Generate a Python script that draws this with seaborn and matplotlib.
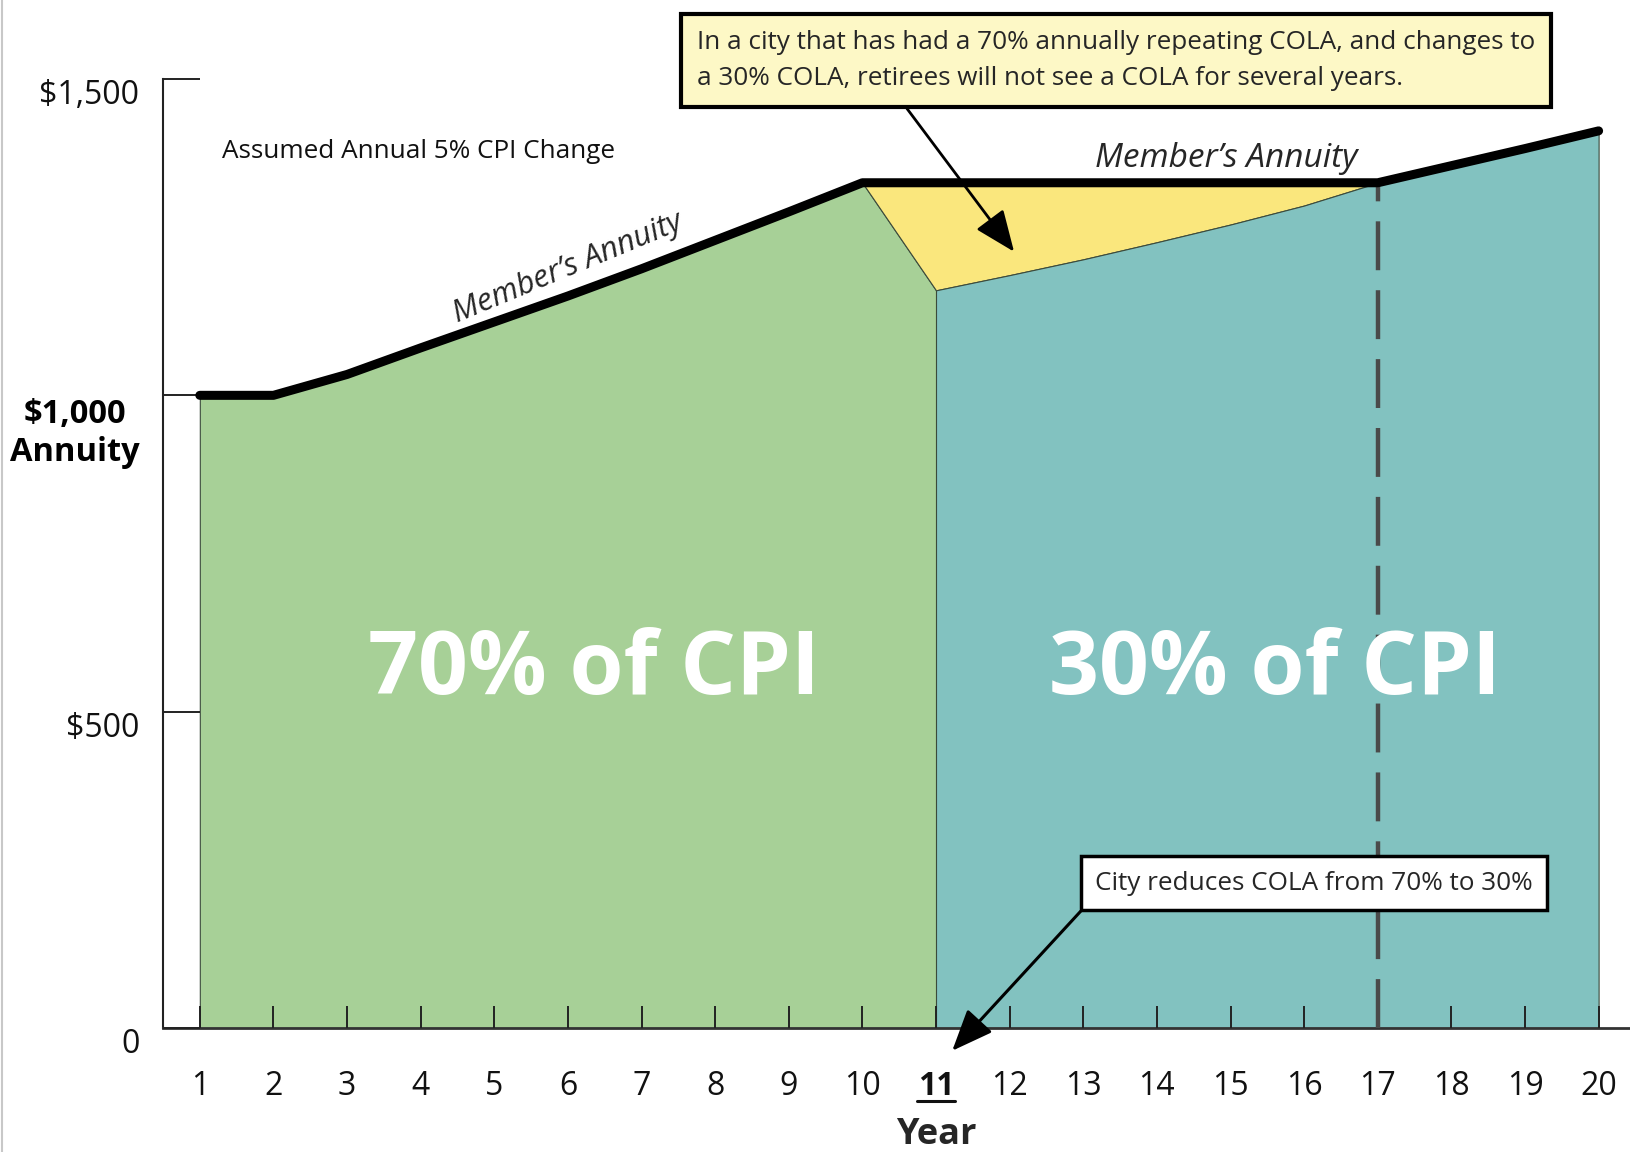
import numpy as np
import matplotlib
matplotlib.use('Agg')
import matplotlib.pyplot as plt
import matplotlib.transforms as mtransforms
import seaborn as sns

# %% Values
years = list(range(1, 21))
member_annuity = [1000, 1000, 1033, 1075, 1116, 1157, 1200, 1245, 1290, 1336,
                  1336, 1336, 1336, 1336, 1336, 1336, 1336, 1363, 1390, 1418]
# annuity path after the COLA is cut to 30% of CPI (years 11-17)
cola30_annuity = [1166, 1190, 1215, 1242, 1270, 1300, 1336]
switch_year = 11
catchup_year = 17

xtick_labels = [str(y) for y in years]
ytick_values = [0, 500, 1000, 1500]
ytick_labels = ['0', '\\$500', '\\$1,000\nAnnuity', '\\$1,500']

note_top = ('In a city that has had a 70% annually repeating COLA, and changes to\n'
            'a 30% COLA, retirees will not see a COLA for several years.')
note_bottom = 'City reduces COLA from 70% to 30%'

# colours
green = '#a7d097'
teal = '#82c2c0'
yellow = '#fae77d'
box_yellow = '#fdf8c6'
edge = '#3b4a3b'

# %% Figure
sns.set_style('white')
plt.rcParams['font.family'] = ['Open Sans', 'DejaVu Sans']

fig = plt.figure(figsize=(16.31, 11.52), dpi=100)
ax = fig.add_axes([163 / 1631, 124 / 1152, 1468 / 1631, 949 / 1152])

yrs = np.array(years)
member = np.array(member_annuity, dtype=float)
i_sw = years.index(switch_year)
i_cu = years.index(catchup_year)

# 70% of CPI area
green_x = yrs[:i_sw + 1]
green_y = np.append(member[:i_sw], cola30_annuity[0])
ax.fill_between(green_x, 0, green_y, facecolor=green, edgecolor=edge,
                linewidth=0.8, zorder=1)

# gap between annuity and the 30% path
gap_x = yrs[i_sw - 1:i_cu + 1]
gap_low = np.append(member[i_sw - 1], cola30_annuity)
gap_high = member[i_sw - 1:i_cu + 1]
ax.fill_between(gap_x, gap_low, gap_high, facecolor=yellow, edgecolor=edge,
                linewidth=0.8, zorder=1)

# 30% of CPI area
teal_x = yrs[i_sw:]
teal_y = np.append(cola30_annuity, member[i_cu + 1:])
ax.fill_between(teal_x, 0, teal_y, facecolor=teal, edgecolor=edge,
                linewidth=0.8, zorder=1)

# catch-up year marker
ax.vlines(catchup_year, 0, member[i_cu], colors='#4a4a4a', linewidth=3.2,
          linestyles=(0, (11, 4.5)), zorder=3)

# member's annuity line
sns.lineplot(x=years, y=member_annuity, ax=ax, color='black', linewidth=6.5,
             solid_capstyle='round', solid_joinstyle='round', zorder=4)

# %% Axes styling
ax.set_xlim(0.5, 20.44)
ax.set_ylim(0, 1500)
ax.set_xticks(years, xtick_labels)
ax.set_yticks(ytick_values, ytick_labels)
ax.set_axisbelow(False)
ax.tick_params(axis='x', bottom=True, direction='in', length=16, width=1.4,
               color='#222222', pad=30, labelsize=23, labelcolor='#111111')
ax.tick_params(axis='y', left=True, direction='in', length=26.6, width=1.4,
               color='#222222', pad=17, labelsize=23, labelcolor='#111111')
for s in ['top', 'right']:
    ax.spines[s].set_visible(False)
ax.spines['left'].set_linewidth(1.5)
ax.spines['left'].set_color('#222222')
ax.spines['bottom'].set_linewidth(2)
ax.spines['bottom'].set_color('#333333')
ax.set_ylabel('')

# shift y labels a little below their ticks
offsets = {0: -9, 500: -9, 1000: -23, 1500: -9}
for lab, val in zip(ax.get_yticklabels(), ytick_values):
    shift = mtransforms.ScaledTranslation(0, offsets[val] / 72,
                                          fig.dpi_scale_trans)
    lab.set_transform(lab.get_transform() + shift)
    if val == 1000:
        lab.set_fontweight('bold')
        lab.set_fontsize(23.5)
        lab.set_multialignment('center')
        lab.set_color('black')

# bold + underlined switch year
ax.get_xticklabels()[i_sw].set_fontweight('bold')
ul = mtransforms.blended_transform_factory(ax.transData, ax.transAxes)
ax.plot([switch_year - 0.26, switch_year + 0.26], [-0.0768, -0.0768],
        transform=ul, color='#111111', lw=2.2, clip_on=False)

ax.set_xlabel('Year', fontsize=26, fontweight='bold')
ax.xaxis.set_label_coords((switch_year - 0.5) / (20.44 - 0.5), -0.1125)
ax.xaxis.label.set_va('center')

# %% Text and notes
ax.text(1.30, 1386, 'Assumed Annual 5% CPI Change', fontsize=18.8,
        ha='left', va='center', color='#111111')
ax.text(6.0, 1201, 'Member\u2019s Annuity', fontsize=22.5, style='italic',
        rotation=22.5, rotation_mode='anchor', ha='center', va='center')
ax.text(14.94, 1375, 'Member\u2019s Annuity', fontsize=24, style='italic',
        ha='center', va='center')

ax.text(6.35, 564, '70% of CPI', fontsize=63, fontweight='bold',
        color='white', ha='center', va='center', zorder=5)
ax.text(15.6, 564, '30% of CPI', fontsize=63, fontweight='bold',
        color='white', ha='center', va='center', zorder=5)

head = '-|>,head_length=0.85,head_width=0.35'
ax.annotate(note_top, xy=(12.06, 1227), xytext=(7.75, 1529),
            textcoords='data', ha='left', va='center', fontsize=18.8,
            linespacing=1.55,
            bbox=dict(boxstyle='square,pad=0.62', fc=box_yellow, ec='black',
                      lw=3),
            arrowprops=dict(arrowstyle=head, mutation_scale=30, color='black',
                            lw=2, relpos=(0.235, 0), shrinkA=0, shrinkB=0),
            annotation_clip=False, zorder=6)
ax.annotate(note_bottom, xy=(11.22, -36), xytext=(13.16, 229),
            textcoords='data', ha='left', va='center', fontsize=18.8,
            bbox=dict(boxstyle='square,pad=0.55', fc='white', ec='black',
                      lw=2.5),
            arrowprops=dict(arrowstyle=head, mutation_scale=30, color='black',
                            lw=2.2, relpos=(0, 0), shrinkA=0, shrinkB=0),
            annotation_clip=False, zorder=6)

fig.add_artist(plt.Line2D([0.0015, 0.0015], [0, 1], transform=fig.transFigure,
                          color='#c8c8c8', lw=1.5))

fig.savefig('out.png', dpi=100)
